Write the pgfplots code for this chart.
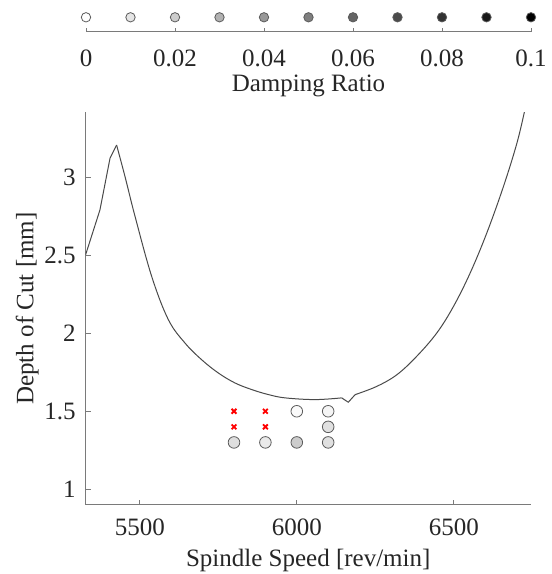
\documentclass[border=0pt]{standalone}
\usepackage{fontspec}
\setmainfont{Liberation Serif}
\usepackage{pgfplots}
\pgfplotsset{compat=1.18}
\definecolor{axgray}{HTML}{7A7A7A}
\definecolor{txt}{HTML}{262626}
\definecolor{curvec}{HTML}{4A4A4A}
\definecolor{edgec}{HTML}{5A5A5A}
\begin{document}
\begin{tikzpicture}
\useasboundingbox (0,0) rectangle (276pt,287pt);
\begin{axis}[
 at={(42.75pt,34.65pt)}, anchor=south west,
 scale only axis, width=222.75pt, height=196.2pt,
 xmin=5327, xmax=6746, ymin=0.9, ymax=3.42,
 axis x line=bottom, axis y line=left,
 axis line style={-, draw=axgray, line width=0.5pt},
 tick align=inside, major tick length=2.5pt,
 tick style={draw=axgray, line width=0.5pt},
 xtick={5500,6000,6500},
 xticklabels={\textrm{5500},\textrm{6000},\textrm{6500}},
 ytick={1,1.5,2,2.5,3},
 yticklabels={\textrm{1},\textrm{1.5},\textrm{2},\textrm{2.5},\textrm{3}},
 font=\fontsize{12.5}{15}\selectfont,
 every tick label/.append style={text=txt},
 xticklabel style={inner sep=0pt, yshift=-7pt},
 yticklabel style={anchor=east, inner sep=0pt, xshift=-4.75pt},
 xlabel={Spindle Speed [rev/min]}, ylabel={Depth of Cut [mm]},
 xlabel style={at={(axis description cs:0.5,-0.141)}, anchor=center, text=txt},
 ylabel style={at={(axis description cs:-0.131,0.5)}, anchor=center, text=txt},
 colormap={bw}{gray(0cm)=(1); gray(1cm)=(0)},
 point meta min=0, point meta max=0.1,
]
\addplot[curvec, line width=0.5pt, mark=none] coordinates {
(5327,2.503) (5373,2.793) (5405,3.124) (5426,3.210)
};
\addplot[curvec, line width=0.5pt, mark=none, smooth, tension=0.6] coordinates {
(5426,3.210) (5453,3.006)
(5485,2.750) (5538,2.365) (5591,2.088) (5644,1.938) (5697,1.831)
(5750,1.746) (5803,1.682) (5857,1.639) (5910,1.607) (5963,1.586)
(6058,1.575) (6143,1.586)
};
\addplot[curvec, line width=0.5pt, mark=none] coordinates {
(6143,1.586) (6164,1.558) (6186,1.607)
};
\addplot[curvec, line width=0.5pt, mark=none, smooth, tension=0.6] coordinates {
(6186,1.607) (6255,1.660)
(6319,1.735) (6382,1.853) (6446,2.003) (6499,2.173) (6552,2.387)
(6605,2.644) (6658,2.942) (6701,3.221) (6725,3.423)
};
\addplot[scatter, only marks, mark=*, mark size=2.9pt, line width=0.4pt,
 point meta=explicit,
 scatter/use mapped color={draw=edgec, fill=mapped color}] coordinates {
(5800,1.3) [0.013]
(5900,1.3) [0.008]
(6000,1.3) [0.020]
(6100,1.3) [0.012]
(6100,1.4) [0.012]
(6100,1.5) [0.004]
(6000,1.5) [0.002]
};
\addplot[only marks, mark=x, mark size=1.7pt, red, line width=0.9pt] coordinates {
(5800,1.5) (5800,1.4) (5900,1.5) (5900,1.4)
};
\end{axis}
\begin{axis}[
 at={(43pt,271.15pt)}, anchor=south west,
 scale only axis, width=222.5pt, height=10pt,
 xmin=0, xmax=0.1, ymin=0, ymax=1,
 axis x line=bottom, axis y line=none, ytick=\empty,
 axis line style={-, draw=axgray, line width=0.5pt},
 tick align=inside, major tick length=2pt,
 tick style={draw=axgray, line width=0.5pt},
 xtick={0,0.02,0.04,0.06,0.08,0.1},
 xticklabels={\textrm{0},\textrm{0.02},\textrm{0.04},\textrm{0.06},\textrm{0.08},\textrm{0.1}},
 font=\fontsize{12.5}{15}\selectfont,
 every tick label/.append style={text=txt},
 xticklabel style={inner sep=0pt, yshift=-8.65pt},
 xlabel={Damping Ratio},
 xlabel style={at={(axis description cs:0.5,-2.72)}, anchor=center, text=txt},
 clip=false,
 colormap={bw}{gray(0cm)=(1); gray(1cm)=(0)},
 point meta min=0, point meta max=0.1,
]
\addplot[scatter, only marks, mark=*, mark size=2.35pt, line width=0.4pt,
 point meta=explicit,
 scatter/use mapped color={draw=edgec, fill=mapped color}] coordinates {
(0,0.72) [0] (0.01,0.72) [0.01] (0.02,0.72) [0.02] (0.03,0.72) [0.03]
(0.04,0.72) [0.04] (0.05,0.72) [0.05] (0.06,0.72) [0.06] (0.07,0.72) [0.07]
(0.08,0.72) [0.08] (0.09,0.72) [0.09] (0.1,0.72) [0.1]
};
\end{axis}
\end{tikzpicture}
\end{document}
